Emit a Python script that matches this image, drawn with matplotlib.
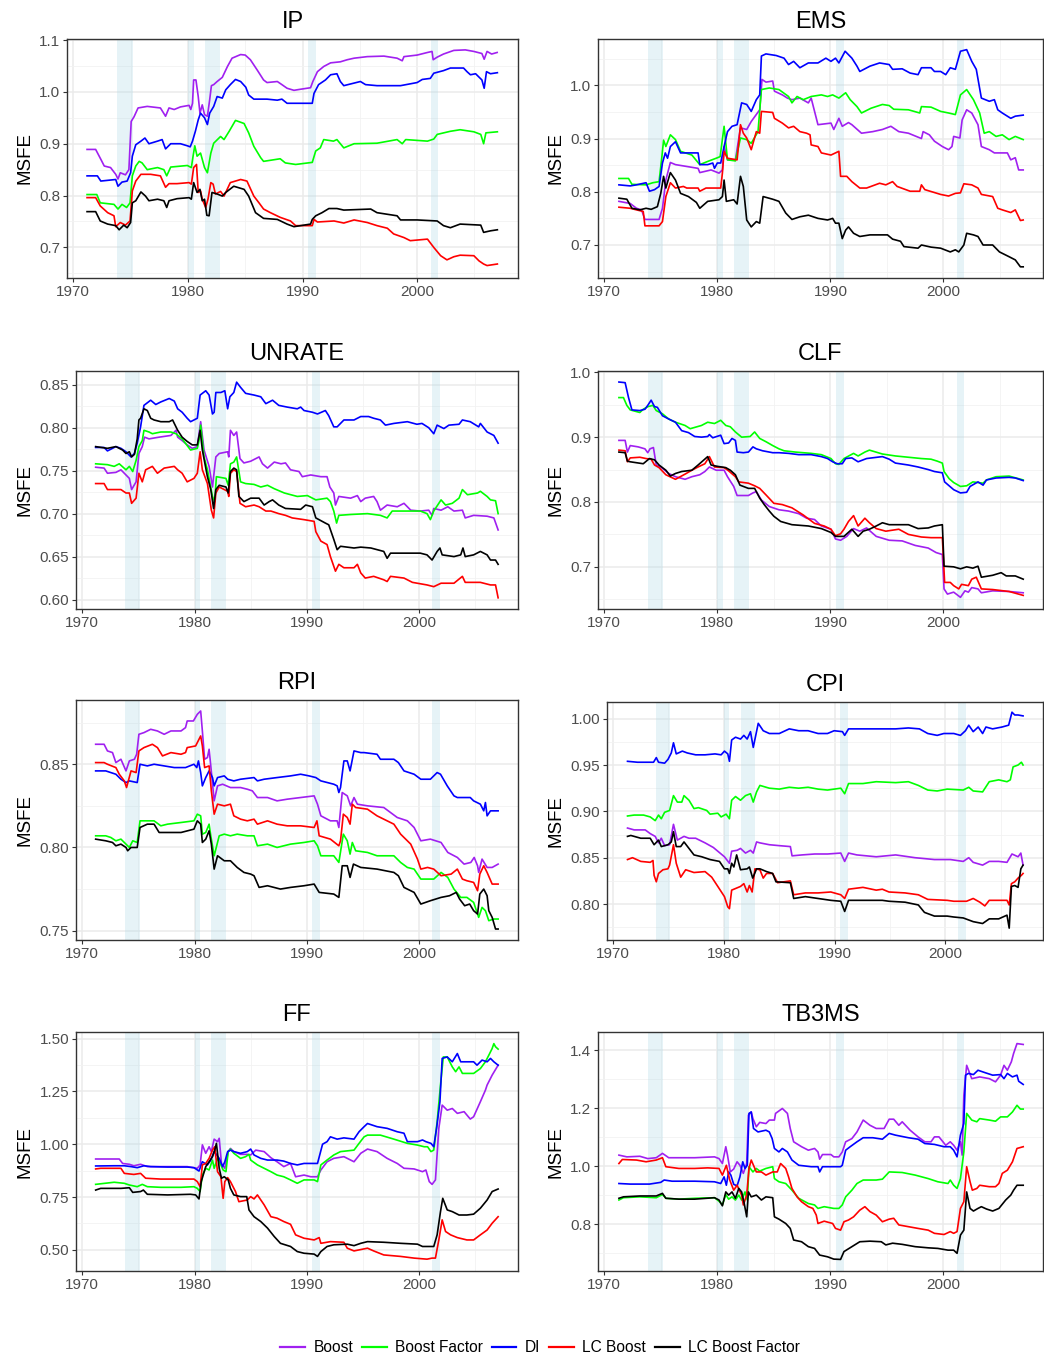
import matplotlib
matplotlib.use("Agg")
import matplotlib.pyplot as plt
from matplotlib.lines import Line2D

plt.rcParams['font.family'] = ['Liberation Sans', 'DejaVu Sans']

# ---------------- data ----------------
SERIES = ["Boost", "Boost Factor", "DI", "LC Boost", "LC Boost Factor"]
COLORS = ["#A020F0", "#00FF00", "#0000FF", "#FF0000", "#000000"]
RECESSIONS = [(1973.83, 1975.17), (1980.0, 1980.5), (1981.5, 1982.83), (1990.5, 1991.17), (2001.17, 2001.83)]
X_TICKS = [1970, 1980, 1990, 2000]

# IP
IP_BOOST = [(1971.2,.889),(1971.95,.889),(1972.4,.870),(1972.7,.857),(1973.25,.854),(1973.7,.841),(1973.9,.832),(1974.1,.844),(1974.55,.840),(1974.85,.850),(1975.05,.943),(1975.3,.952),(1975.65,.969),(1976.45,.972),(1977.6,.969),(1978.05,.953),(1978.35,.969),(1978.8,.966),(1979.35,.971),(1980.1,.974),(1980.25,.966),(1980.4,.978),(1980.5,1.023),(1980.7,1.023),(1980.9,.991),(1981.05,.959),(1981.25,.975),(1981.45,.956),(1981.7,.953),(1981.9,.985),(1982.05,1.012),(1982.25,1.014),(1982.55,1.020),(1983.0,1.028),(1983.45,1.049),(1983.85,1.065),(1984.6,1.072),(1985.0,1.071),(1985.45,1.062),(1986.05,1.042),(1986.6,1.023),(1986.9,1.018),(1987.8,1.020),(1988.2,1.014),(1988.65,1.007),(1989.25,1.003),(1989.8,1.005),(1990.7,1.008),(1990.9,1.020),(1991.3,1.039),(1991.85,1.049),(1992.45,1.056),(1993.3,1.058),(1993.9,1.062),(1994.5,1.065),(1995.65,1.068),(1997.1,1.069),(1998.25,1.065),(1998.7,1.060),(1998.85,1.068),(2000.0,1.071),(2000.9,1.076),(2001.3,1.078),(2001.4,1.062),(2001.75,1.067),(2002.3,1.073),(2003.2,1.080),(2004.2,1.081),(2004.95,1.078),(2005.65,1.074),(2005.85,1.063),(2006.1,1.078),(2006.5,1.073),(2006.98,1.076)]
IP_BOOST_FACTOR = [(1971.2,.802),(1972.05,.802),(1972.35,.786),(1973.55,.783),(1973.9,.774),(1974.25,.783),(1974.65,.777),(1974.95,.786),(1975.15,.838),(1975.45,.857),(1975.75,.866),(1976.0,.863),(1976.45,.850),(1977.35,.854),(1977.9,.850),(1978.15,.838),(1978.5,.855),(1979.95,.858),(1980.3,.854),(1980.45,.876),(1980.6,.896),(1980.8,.876),(1981.1,.882),(1981.45,.854),(1981.7,.844),(1982.0,.882),(1982.25,.901),(1982.85,.914),(1983.15,.908),(1983.6,.924),(1984.15,.945),(1984.9,.939),(1985.3,.921),(1985.75,.895),(1986.35,.873),(1986.6,.866),(1988.05,.871),(1988.5,.863),(1989.4,.860),(1990.85,.864),(1991.15,.886),(1991.55,.892),(1991.85,.908),(1992.7,.905),(1993.0,.908),(1993.6,.892),(1994.5,.900),(1996.5,.901),(1998.25,.908),(1998.7,.900),(1999.0,.908),(2000.9,.905),(2001.45,.909),(2001.75,.918),(2002.9,.924),(2003.75,.927),(2004.95,.923),(2005.55,.918),(2005.8,.900),(2006.0,.921),(2007.0,.923)]
IP_DI = [(1971.2,.838),(1972.1,.838),(1972.4,.828),(1973.7,.831),(1973.9,.818),(1974.25,.826),(1974.7,.828),(1975.0,.844),(1975.15,.876),(1975.45,.898),(1975.9,.905),(1976.25,.911),(1976.6,.900),(1977.35,.905),(1977.75,.908),(1978.05,.890),(1978.5,.900),(1979.35,.900),(1979.95,.896),(1980.2,.894),(1980.4,.905),(1980.65,.924),(1980.9,.946),(1981.1,.959),(1981.45,.950),(1981.7,.937),(1981.9,.959),(1982.25,.972),(1982.55,.991),(1983.0,.988),(1983.3,1.004),(1983.7,1.014),(1984.15,1.024),(1984.6,1.020),(1985.05,1.009),(1985.3,.994),(1985.75,.986),(1986.9,.986),(1987.8,.984),(1988.2,.986),(1988.65,.978),(1990.85,.978),(1991.0,.997),(1991.4,1.014),(1992.0,1.023),(1992.45,1.033),(1993.0,1.035),(1993.3,1.020),(1993.6,1.012),(1995.05,1.020),(1995.5,1.014),(1996.5,1.012),(1998.55,1.012),(2000.0,1.018),(2000.45,1.024),(2001.15,1.026),(2001.45,1.036),(2002.3,1.041),(2002.9,1.046),(2004.05,1.046),(2004.35,1.039),(2004.65,1.033),(2005.1,1.035),(2005.65,1.023),(2005.85,1.007),(2006.05,1.039),(2006.4,1.035),(2007.0,1.037)]
IP_LC_BOOST = [(1971.2,.796),(1971.95,.796),(1972.35,.780),(1973.0,.767),(1973.55,.761),(1973.7,.740),(1974.1,.748),(1974.55,.743),(1974.95,.751),(1975.15,.809),(1975.45,.828),(1975.9,.841),(1976.75,.841),(1977.6,.838),(1978.05,.816),(1978.35,.823),(1979.05,.823),(1980.1,.825),(1980.3,.822),(1980.5,.854),(1980.75,.860),(1980.9,.806),(1981.1,.809),(1981.25,.793),(1981.55,.777),(1981.75,.793),(1982.0,.825),(1982.2,.822),(1982.4,.803),(1982.85,.808),(1983.15,.799),(1983.7,.825),(1984.6,.831),(1985.15,.828),(1985.75,.799),(1986.2,.786),(1986.6,.774),(1987.2,.767),(1988.05,.758),(1988.95,.751),(1989.4,.742),(1990.85,.742),(1991.0,.754),(1991.3,.749),(1992.75,.751),(1993.6,.747),(1994.5,.753),(1995.65,.748),(1996.5,.742),(1997.4,.737),(1997.95,.726),(1998.85,.719),(1999.4,.713),(2000.9,.716),(2001.45,.700),(2002.05,.684),(2002.6,.676),(2003.2,.682),(2003.75,.685),(2004.95,.684),(2005.4,.674),(2005.8,.668),(2006.1,.665),(2007.0,.668)]
IP_LC_BOOST_FACTOR = [(1971.2,.769),(1971.95,.769),(1972.35,.751),(1973.0,.745),(1973.7,.742),(1974.0,.734),(1974.4,.743),(1974.7,.738),(1975.0,.748),(1975.15,.786),(1975.45,.790),(1975.9,.807),(1976.3,.799),(1976.6,.790),(1977.35,.793),(1977.9,.790),(1978.15,.777),(1978.35,.790),(1979.05,.794),(1980.1,.796),(1980.3,.793),(1980.5,.825),(1980.8,.806),(1981.05,.812),(1981.25,.790),(1981.45,.793),(1981.65,.762),(1981.85,.761),(1982.1,.806),(1982.55,.803),(1983.0,.799),(1983.3,.806),(1984.0,.818),(1984.9,.812),(1985.3,.799),(1985.9,.767),(1986.6,.756),(1987.8,.754),(1988.65,.745),(1989.25,.740),(1990.7,.745),(1990.85,.754),(1991.15,.761),(1991.7,.767),(1992.3,.775),(1993.0,.775),(1993.6,.772),(1995.95,.774),(1996.5,.767),(1998.25,.761),(1998.55,.753),(2000.0,.753),(2001.75,.751),(2002.3,.742),(2002.9,.738),(2003.75,.745),(2005.55,.743),(2005.8,.729),(2006.4,.732),(2007.0,.734)]

# EMS
EMS_BOOST = [(1971.3,.782),(1972.3,.778),(1972.85,.769),(1973.3,.766),(1973.6,.748),(1974.85,.748),(1975.15,.769),(1975.45,.822),(1975.85,.855),(1976.3,.851),(1977.45,.847),(1978.3,.844),(1978.45,.836),(1979.45,.841),(1980.15,.835),(1980.45,.841),(1980.6,.885),(1980.9,.860),(1981.6,.860),(1982.05,.920),(1982.6,.917),(1983.0,.932),(1983.75,.954),(1983.95,1.011),(1984.3,1.006),(1984.9,1.008),(1985.05,.989),(1985.75,.982),(1986.2,.976),(1986.6,.973),(1987.3,.976),(1988.05,.967),(1988.3,.976),(1988.9,.926),(1990.05,.929),(1990.3,.917),(1990.75,.938),(1991.05,.923),(1991.6,.930),(1991.9,.926),(1992.75,.910),(1993.75,.913),(1994.6,.917),(1995.35,.923),(1996.05,.913),(1996.9,.910),(1998.05,.900),(1998.2,.913),(1998.75,.907),(1999.2,.895),(1999.9,.885),(2000.45,.879),(2000.75,.885),(2000.9,.904),(2001.45,.901),(2001.65,.935),(2002.05,.954),(2002.5,.948),(2003.05,.926),(2003.35,.885),(2004.05,.879),(2004.5,.873),(2005.65,.873),(2005.95,.860),(2006.35,.864),(2006.65,.841),(2007.05,.841)]
EMS_BOOST_FACTOR = [(1971.3,.825),(1972.15,.825),(1972.45,.814),(1973.7,.813),(1974.3,.817),(1974.85,.819),(1975.1,.866),(1975.25,.897),(1975.45,.885),(1975.85,.907),(1976.3,.898),(1976.75,.876),(1977.75,.869),(1978.45,.851),(1979.15,.857),(1979.9,.863),(1980.25,.866),(1980.6,.923),(1980.9,.860),(1981.6,.858),(1982.05,.901),(1982.6,.898),(1983.0,.891),(1983.6,.913),(1983.9,.992),(1984.6,.995),(1985.45,.992),(1986.3,.979),(1986.6,.967),(1987.05,.979),(1987.6,.973),(1988.3,.979),(1989.2,.982),(1989.75,.979),(1990.2,.982),(1990.75,.976),(1991.35,.986),(1991.75,.973),(1992.35,.960),(1992.75,.948),(1993.6,.957),(1994.6,.964),(1995.2,.962),(1995.6,.955),(1996.9,.954),(1997.9,.948),(1998.05,.960),(1998.9,.959),(1999.75,.951),(2000.45,.948),(2001.05,.945),(2001.5,.982),(2002.05,.992),(2002.65,.973),(2003.2,.948),(2003.6,.910),(2004.05,.913),(2004.65,.904),(2005.2,.907),(2005.8,.898),(2006.35,.904),(2007.05,.898)]
EMS_DI = [(1971.3,.813),(1972.3,.811),(1972.85,.813),(1973.7,.817),(1974.0,.801),(1974.45,.804),(1974.85,.810),(1975.15,.854),(1975.4,.873),(1975.6,.863),(1975.85,.885),(1976.3,.894),(1976.75,.873),(1978.3,.873),(1978.45,.851),(1979.15,.851),(1979.6,.854),(1979.75,.844),(1980.0,.854),(1980.3,.854),(1980.6,.885),(1980.9,.913),(1981.3,.923),(1981.75,.926),(1982.15,.967),(1982.6,.964),(1983.0,.951),(1983.45,.973),(1983.75,.982),(1983.9,1.055),(1984.3,1.059),(1985.2,1.056),(1985.9,1.051),(1986.3,1.039),(1986.75,1.045),(1987.3,1.033),(1988.05,1.042),(1988.9,1.042),(1989.6,1.051),(1990.05,1.045),(1990.45,1.051),(1990.75,1.042),(1991.3,1.064),(1991.9,1.051),(1992.35,1.036),(1992.6,1.026),(1993.5,1.036),(1994.35,1.042),(1995.2,1.039),(1995.5,1.030),(1996.35,1.031),(1997.05,1.023),(1997.75,1.020),(1998.05,1.033),(1998.9,1.033),(1999.2,1.026),(1999.75,1.026),(2000.2,1.020),(2000.6,1.033),(2001.05,1.030),(2001.5,1.064),(2002.05,1.067),(2002.5,1.045),(2002.9,1.030),(2003.35,.976),(2004.05,.970),(2004.5,.973),(2004.8,.954),(2005.2,.948),(2005.95,.938),(2006.35,.942),(2007.05,.944)]
EMS_LC_BOOST = [(1971.3,.771),(1972.3,.769),(1972.85,.766),(1973.45,.763),(1973.6,.736),(1974.85,.736),(1975.15,.744),(1975.45,.791),(1975.85,.817),(1976.3,.807),(1977.0,.810),(1977.3,.807),(1978.3,.807),(1978.45,.801),(1979.0,.807),(1980.3,.807),(1980.45,.835),(1980.6,.876),(1980.9,.863),(1981.75,.860),(1982.05,.926),(1982.3,.910),(1982.6,.901),(1983.0,.879),(1983.45,.913),(1983.75,.910),(1983.9,.951),(1984.9,.949),(1985.05,.938),(1985.75,.929),(1986.3,.920),(1986.75,.923),(1987.3,.913),(1987.9,.910),(1988.2,.907),(1988.3,.888),(1988.9,.885),(1989.2,.873),(1990.05,.869),(1990.45,.873),(1990.75,.876),(1990.9,.829),(1991.45,.829),(1991.9,.819),(1992.6,.807),(1993.2,.807),(1994.35,.816),(1994.9,.813),(1995.5,.819),(1995.9,.810),(1997.05,.801),(1997.9,.801),(1998.05,.813),(1998.35,.804),(1999.75,.795),(2000.45,.792),(2001.05,.797),(2001.5,.798),(2001.8,.815),(2002.5,.813),(2003.05,.807),(2003.35,.795),(2004.35,.791),(2004.8,.769),(2005.2,.766),(2005.95,.761),(2006.35,.766),(2006.8,.746),(2007.05,.747)]
EMS_LC_BOOST_FACTOR = [(1971.3,.788),(1972.0,.786),(1972.45,.769),(1973.15,.766),(1973.7,.769),(1974.15,.767),(1974.7,.772),(1975.0,.797),(1975.25,.829),(1975.45,.807),(1975.75,.829),(1975.85,.836),(1976.3,.822),(1976.75,.797),(1977.45,.791),(1978.15,.780),(1978.45,.769),(1979.15,.782),(1980.15,.785),(1980.45,.791),(1980.6,.822),(1980.8,.782),(1981.45,.785),(1981.75,.777),(1982.05,.829),(1982.3,.810),(1982.6,.747),(1983.0,.734),(1983.45,.744),(1983.75,.741),(1984.05,.791),(1984.9,.786),(1985.45,.782),(1986.05,.760),(1986.6,.748),(1987.3,.753),(1988.05,.756),(1988.9,.750),(1989.75,.747),(1990.2,.750),(1990.45,.741),(1990.75,.741),(1991.05,.712),(1991.35,.728),(1991.6,.734),(1992.05,.722),(1992.6,.716),(1993.5,.719),(1995.05,.719),(1995.5,.711),(1996.2,.707),(1996.5,.697),(1997.75,.694),(1998.05,.700),(1998.9,.696),(1999.75,.694),(2000.6,.687),(2001.05,.691),(2001.35,.687),(2001.8,.700),(2002.05,.722),(2002.65,.719),(2003.05,.716),(2003.5,.700),(2004.35,.700),(2004.95,.687),(2005.8,.678),(2006.35,.672),(2006.8,.659),(2007.05,.659)]

# UNRATE
UNRATE_BOOST = [(1971.2,.754),(1971.95,.753),(1972.25,.747),(1973.0,.748),(1973.45,.751),(1973.9,.745),(1974.2,.741),(1974.4,.728),(1974.8,.737),(1975.05,.770),(1975.35,.778),(1975.55,.789),(1975.95,.787),(1976.85,.789),(1977.9,.791),(1978.35,.797),(1978.5,.789),(1978.9,.785),(1979.35,.780),(1979.8,.776),(1980.25,.778),(1980.55,.807),(1980.85,.774),(1981.3,.755),(1981.6,.731),(1981.9,.766),(1982.2,.770),(1982.95,.772),(1983.05,.766),(1983.2,.797),(1983.5,.791),(1983.75,.795),(1984.05,.764),(1984.4,.759),(1985.0,.761),(1985.45,.764),(1985.75,.766),(1986.05,.758),(1986.5,.753),(1987.1,.760),(1987.7,.758),(1988.1,.759),(1988.55,.751),(1989.3,.749),(1989.6,.743),(1990.35,.745),(1991.25,.743),(1991.8,.743),(1992.05,.731),(1992.4,.724),(1992.55,.710),(1992.85,.720),(1993.9,.718),(1994.5,.721),(1994.8,.714),(1995.2,.718),(1995.95,.720),(1996.25,.714),(1996.55,.704),(1997.15,.710),(1998.05,.708),(1998.65,.712),(1999.25,.704),(2000.1,.703),(2000.85,.704),(2001.15,.698),(2001.3,.706),(2001.95,.704),(2002.55,.708),(2003.1,.703),(2003.85,.704),(2004.1,.695),(2004.85,.698),(2006.05,.697),(2006.65,.695),(2007.03,.681)]
UNRATE_BOOST_FACTOR = [(1971.2,.758),(1972.25,.757),(1972.85,.755),(1973.3,.758),(1973.9,.751),(1974.2,.755),(1974.5,.749),(1974.8,.762),(1975.05,.778),(1975.35,.785),(1975.5,.797),(1975.95,.795),(1976.25,.793),(1977.0,.795),(1977.9,.795),(1978.35,.793),(1978.9,.787),(1979.65,.774),(1980.25,.776),(1980.4,.785),(1980.55,.803),(1980.85,.766),(1981.15,.751),(1981.6,.720),(1981.8,.714),(1981.95,.743),(1982.8,.741),(1983.0,.733),(1983.2,.758),(1983.5,.760),(1983.75,.766),(1984.1,.737),(1984.55,.735),(1985.3,.734),(1985.9,.731),(1986.5,.733),(1987.1,.729),(1988.0,.724),(1989.15,.720),(1990.05,.721),(1990.8,.716),(1991.8,.718),(1992.1,.714),(1992.4,.703),(1992.65,.689),(1992.85,.698),(1993.9,.699),(1995.4,.700),(1996.55,.698),(1997.15,.695),(1997.6,.703),(1998.95,.703),(2000.1,.703),(2000.7,.700),(2001.0,.693),(2001.3,.703),(2001.95,.716),(2002.35,.710),(2002.95,.712),(2003.55,.718),(2003.85,.728),(2004.3,.722),(2005.2,.724),(2005.45,.726),(2006.05,.720),(2006.35,.716),(2006.8,.715),(2007.03,.700)]
UNRATE_DI = [(1971.2,.777),(1971.95,.777),(1972.25,.773),(1973.0,.778),(1973.45,.776),(1973.9,.772),(1974.35,.766),(1974.65,.770),(1974.9,.782),(1975.2,.801),(1975.5,.826),(1976.1,.832),(1976.55,.827),(1977.0,.830),(1977.75,.834),(1978.2,.831),(1978.5,.822),(1978.9,.818),(1979.35,.811),(1979.65,.807),(1980.25,.811),(1980.5,.838),(1981.0,.843),(1981.3,.838),(1981.6,.816),(1981.75,.818),(1981.9,.841),(1982.35,.841),(1982.7,.843),(1982.95,.822),(1983.15,.836),(1983.5,.841),(1983.75,.853),(1984.1,.847),(1984.55,.840),(1985.3,.838),(1985.9,.836),(1986.35,.828),(1986.95,.832),(1987.5,.826),(1988.25,.824),(1989.15,.822),(1989.45,.824),(1989.75,.820),(1990.5,.818),(1990.95,.816),(1991.65,.820),(1991.95,.814),(1992.4,.801),(1992.7,.801),(1993.3,.809),(1994.2,.809),(1994.8,.813),(1995.5,.813),(1995.95,.811),(1996.55,.809),(1997.0,.803),(1997.75,.805),(1998.95,.807),(1999.8,.804),(2000.25,.805),(2000.85,.800),(2001.3,.793),(2001.6,.803),(2002.2,.799),(2002.65,.803),(2003.55,.804),(2003.85,.809),(2004.55,.807),(2005.3,.801),(2005.45,.805),(2006.05,.795),(2006.65,.791),(2007.03,.782)]
UNRATE_LC_BOOST = [(1971.2,.735),(1971.95,.735),(1972.25,.728),(1973.45,.728),(1973.9,.724),(1974.2,.724),(1974.4,.712),(1974.8,.718),(1975.05,.747),(1975.35,.737),(1975.65,.751),(1976.25,.755),(1976.7,.747),(1977.3,.753),(1978.2,.755),(1978.5,.751),(1978.9,.747),(1979.35,.737),(1979.95,.741),(1980.25,.747),(1980.5,.772),(1980.7,.751),(1981.15,.735),(1981.5,.704),(1981.7,.695),(1981.9,.724),(1982.2,.731),(1982.95,.726),(1983.05,.720),(1983.2,.747),(1983.5,.751),(1983.75,.749),(1984.05,.712),(1984.55,.708),(1985.3,.710),(1985.75,.708),(1986.35,.703),(1986.8,.703),(1987.5,.700),(1988.1,.698),(1988.7,.695),(1989.75,.693),(1990.65,.691),(1990.8,.679),(1991.25,.668),(1991.8,.664),(1992.1,.650),(1992.55,.633),(1992.85,.641),(1993.3,.637),(1994.2,.637),(1994.5,.641),(1994.8,.631),(1995.2,.625),(1995.95,.627),(1996.85,.623),(1997.15,.621),(1997.45,.627),(1998.65,.625),(1999.4,.620),(2000.7,.617),(2001.3,.615),(2001.95,.619),(2003.1,.619),(2003.85,.627),(2004.1,.620),(2005.45,.620),(2006.35,.617),(2006.8,.617),(2007.03,.602)]
UNRATE_LC_BOOST_FACTOR = [(1971.2,.778),(1972.25,.776),(1973.0,.778),(1973.6,.774),(1973.9,.770),(1974.2,.772),(1974.4,.766),(1974.65,.769),(1974.9,.787),(1975.05,.809),(1975.2,.811),(1975.5,.822),(1975.8,.820),(1976.1,.811),(1976.4,.809),(1977.0,.807),(1977.75,.807),(1978.05,.809),(1978.5,.797),(1978.9,.789),(1979.35,.784),(1979.8,.780),(1980.25,.780),(1980.5,.797),(1980.7,.774),(1981.15,.743),(1981.45,.728),(1981.7,.706),(1981.9,.728),(1982.2,.733),(1982.8,.731),(1983.0,.724),(1983.2,.749),(1983.5,.753),(1983.75,.751),(1983.95,.720),(1984.4,.714),(1985.0,.718),(1985.75,.718),(1986.2,.710),(1986.65,.714),(1986.95,.716),(1987.5,.710),(1988.1,.706),(1989.45,.705),(1989.9,.710),(1990.5,.708),(1990.8,.695),(1991.65,.689),(1991.95,.687),(1992.4,.670),(1992.7,.658),(1993.0,.662),(1994.2,.660),(1994.8,.661),(1995.7,.660),(1996.85,.656),(1997.15,.648),(1997.45,.654),(1998.95,.654),(2000.1,.654),(2000.7,.652),(2001.15,.646),(2001.6,.656),(2001.85,.660),(2002.05,.652),(2003.1,.650),(2003.7,.652),(2003.9,.660),(2004.1,.650),(2004.85,.652),(2005.45,.656),(2006.05,.652),(2006.35,.646),(2006.8,.646),(2007.03,.641)]

# CLF
CLF_BOOST = [(1971.3,.895),(1971.85,.895),(1972.05,.877),(1972.3,.887),(1973.0,.885),(1973.6,.882),(1973.85,.876),(1974.05,.882),(1974.35,.884),(1974.6,.857),(1975.0,.854),(1975.7,.844),(1976.3,.839),(1977.15,.835),(1977.75,.839),(1978.45,.842),(1978.9,.847),(1979.3,.854),(1979.9,.849),(1980.6,.849),(1980.9,.839),(1981.45,.824),(1981.75,.810),(1982.75,.810),(1983.15,.814),(1983.45,.816),(1983.9,.803),(1984.6,.793),(1985.45,.788),(1986.3,.786),(1987.2,.782),(1987.9,.775),(1988.6,.773),(1989.2,.763),(1990.05,.758),(1990.45,.743),(1990.9,.741),(1991.45,.747),(1992.05,.759),(1992.6,.755),(1993.2,.760),(1994.05,.747),(1995.2,.741),(1996.35,.740),(1997.5,.733),(1998.65,.729),(1999.35,.722),(1999.9,.719),(2000.05,.666),(2000.35,.658),(2000.9,.661),(2001.5,.653),(2001.9,.663),(2002.2,.661),(2002.5,.668),(2003.05,.666),(2003.35,.660),(2004.35,.663),(2005.8,.662),(2007.05,.660)]
CLF_BOOST_FACTOR = [(1971.3,.961),(1971.7,.961),(1972.0,.949),(1972.3,.942),(1973.15,.938),(1973.45,.943),(1973.85,.947),(1974.3,.949),(1974.6,.941),(1975.15,.936),(1975.7,.928),(1976.3,.923),(1977.15,.918),(1977.6,.913),(1978.6,.918),(1979.15,.923),(1979.75,.921),(1980.3,.926),(1980.75,.918),(1981.15,.916),(1981.6,.908),(1982.15,.900),(1982.9,.901),(1983.3,.908),(1983.75,.898),(1984.3,.893),(1984.9,.887),(1985.45,.882),(1985.9,.879),(1986.9,.877),(1988.3,.875),(1989.2,.873),(1990.05,.867),(1990.45,.859),(1990.75,.858),(1991.2,.867),(1992.05,.875),(1992.45,.871),(1993.05,.877),(1993.45,.880),(1994.6,.874),(1995.75,.871),(1996.9,.869),(1998.05,.867),(1998.9,.866),(1999.45,.863),(1999.9,.860),(2000.05,.847),(2000.5,.836),(2000.9,.830),(2001.5,.824),(2002.05,.825),(2002.6,.831),(2003.5,.829),(2003.8,.834),(2004.65,.839),(2005.8,.840),(2007.05,.834)]
CLF_DI = [(1971.3,.985),(1971.85,.984),(1972.15,.961),(1972.45,.942),(1973.15,.941),(1973.6,.943),(1973.85,.949),(1974.15,.957),(1974.45,.947),(1974.7,.946),(1975.15,.933),(1975.7,.928),(1976.3,.923),(1976.85,.910),(1977.45,.907),(1978.0,.901),(1978.6,.900),(1979.15,.901),(1979.3,.904),(1979.6,.899),(1980.3,.903),(1980.6,.890),(1981.0,.891),(1981.3,.898),(1981.6,.895),(1981.75,.877),(1982.3,.876),(1982.75,.877),(1983.15,.885),(1983.45,.882),(1984.0,.879),(1984.9,.876),(1985.45,.876),(1986.3,.875),(1987.2,.873),(1988.3,.873),(1989.2,.870),(1989.75,.867),(1990.2,.862),(1990.6,.859),(1991.05,.859),(1991.35,.867),(1991.9,.868),(1992.45,.862),(1993.2,.867),(1994.6,.870),(1995.2,.866),(1995.75,.860),(1996.9,.857),(1997.75,.854),(1998.65,.850),(1999.2,.847),(1999.9,.845),(2000.1,.831),(2000.5,.825),(2000.9,.819),(2001.5,.814),(2002.05,.815),(2002.35,.824),(2003.05,.831),(2003.5,.826),(2003.8,.834),(2004.65,.837),(2005.8,.838),(2006.35,.837),(2007.05,.833)]
CLF_LC_BOOST = [(1971.3,.880),(1971.85,.879),(1972.05,.862),(1972.3,.868),(1973.15,.869),(1973.7,.867),(1974.15,.866),(1974.45,.857),(1974.85,.853),(1975.45,.842),(1976.3,.835),(1977.15,.843),(1977.75,.849),(1978.3,.854),(1978.9,.859),(1979.3,.870),(1979.75,.854),(1980.6,.853),(1981.0,.848),(1981.6,.839),(1981.9,.831),(1982.75,.829),(1983.3,.825),(1983.75,.821),(1984.3,.811),(1985.0,.798),(1985.75,.796),(1986.6,.791),(1987.6,.780),(1988.6,.767),(1989.45,.763),(1990.05,.758),(1990.45,.748),(1990.9,.751),(1991.2,.758),(1991.6,.770),(1992.05,.779),(1992.45,.763),(1993.05,.775),(1993.45,.768),(1994.05,.759),(1994.9,.755),(1996.05,.758),(1996.9,.750),(1998.05,.746),(1998.9,.745),(1999.9,.745),(2000.1,.676),(2000.6,.676),(2000.9,.671),(2001.35,.666),(2001.6,.673),(2002.2,.671),(2002.5,.681),(2002.9,.684),(2003.35,.666),(2004.35,.665),(2005.8,.662),(2007.05,.656)]
CLF_LC_BOOST_FACTOR = [(1971.3,.877),(1971.85,.876),(1972.05,.863),(1972.3,.862),(1973.45,.859),(1974.0,.867),(1974.45,.865),(1974.85,.857),(1975.45,.849),(1975.85,.840),(1976.3,.844),(1976.85,.847),(1977.75,.849),(1978.3,.857),(1979.15,.870),(1979.45,.857),(1980.0,.855),(1980.75,.853),(1981.15,.849),(1981.6,.842),(1982.0,.826),(1982.75,.821),(1983.3,.821),(1983.75,.806),(1984.15,.796),(1984.6,.786),(1985.0,.778),(1985.6,.770),(1986.6,.765),(1988.05,.763),(1989.2,.759),(1990.05,.753),(1990.45,.747),(1991.2,.747),(1991.9,.758),(1992.45,.747),(1992.9,.755),(1993.45,.758),(1994.05,.763),(1994.6,.768),(1995.2,.765),(1996.9,.765),(1997.75,.759),(1998.65,.760),(1999.2,.763),(1999.9,.765),(2000.05,.701),(2000.9,.700),(2001.5,.697),(2002.05,.700),(2002.6,.698),(2003.05,.701),(2003.35,.684),(2004.35,.687),(2005.1,.691),(2005.55,.686),(2006.35,.686),(2007.05,.681)]

# RPI
RPI_BOOST = [(1971.2,.862),(1971.95,.862),(1972.25,.858),(1972.7,.857),(1973.0,.851),(1973.45,.853),(1973.9,.846),(1974.2,.852),(1974.65,.853),(1974.85,.856),(1975.05,.868),(1975.5,.869),(1976.1,.871),(1976.7,.870),(1977.3,.868),(1977.9,.870),(1978.8,.870),(1979.2,.872),(1979.35,.876),(1979.9,.876),(1980.25,.880),(1980.55,.882),(1980.7,.870),(1980.9,.853),(1981.15,.854),(1981.3,.859),(1981.45,.849),(1981.75,.828),(1982.05,.837),(1982.5,.838),(1983.2,.836),(1984.1,.836),(1984.7,.835),(1985.15,.834),(1985.6,.830),(1986.5,.830),(1987.35,.828),(1988.25,.829),(1989.45,.830),(1990.65,.831),(1990.95,.826),(1991.25,.819),(1992.1,.816),(1992.7,.816),(1992.85,.812),(1993.15,.833),(1993.6,.831),(1993.9,.825),(1994.2,.830),(1994.5,.826),(1995.4,.825),(1996.85,.824),(1997.45,.821),(1998.05,.818),(1998.95,.816),(1999.55,.812),(2000.15,.804),(2001.0,.805),(2001.95,.803),(2002.55,.797),(2003.4,.794),(2004.0,.790),(2004.6,.791),(2004.9,.794),(2005.2,.789),(2005.3,.785),(2005.6,.793),(2006.05,.788),(2006.5,.788),(2007.03,.790)]
RPI_BOOST_FACTOR = [(1971.2,.807),(1972.1,.807),(1972.55,.806),(1973.0,.804),(1973.45,.805),(1973.9,.802),(1974.2,.800),(1974.5,.804),(1974.9,.803),(1975.15,.816),(1975.8,.816),(1976.4,.816),(1977.0,.813),(1977.6,.814),(1978.8,.815),(1979.95,.816),(1980.25,.820),(1980.55,.819),(1980.7,.808),(1981.0,.809),(1981.3,.814),(1981.45,.807),(1981.75,.795),(1982.2,.807),(1982.65,.808),(1983.2,.807),(1983.8,.808),(1984.7,.807),(1985.3,.807),(1985.6,.801),(1986.5,.802),(1987.35,.800),(1988.55,.802),(1989.75,.803),(1990.65,.804),(1990.95,.801),(1991.25,.795),(1992.4,.795),(1992.85,.791),(1993.25,.808),(1993.6,.804),(1993.85,.796),(1994.05,.803),(1994.35,.798),(1995.4,.797),(1996.25,.795),(1997.75,.795),(1998.35,.791),(1998.95,.788),(1999.55,.787),(2000.15,.781),(2001.3,.781),(2001.95,.785),(2002.55,.782),(2003.1,.775),(2003.7,.770),(2004.25,.770),(2004.85,.767),(2005.3,.758),(2005.6,.764),(2005.9,.762),(2006.2,.756),(2006.65,.757),(2007.03,.757)]
RPI_DI = [(1971.2,.846),(1972.1,.846),(1972.55,.845),(1973.0,.844),(1973.45,.841),(1973.9,.839),(1974.2,.840),(1974.9,.839),(1975.15,.850),(1975.8,.849),(1976.4,.850),(1977.3,.849),(1978.2,.848),(1979.2,.848),(1979.95,.850),(1980.2,.848),(1980.35,.852),(1980.55,.845),(1980.7,.837),(1981.0,.842),(1981.3,.846),(1981.6,.842),(1981.75,.837),(1982.05,.842),(1982.65,.843),(1982.95,.841),(1983.5,.840),(1984.1,.841),(1985.3,.842),(1985.6,.840),(1986.2,.841),(1987.35,.842),(1988.55,.843),(1989.45,.844),(1990.2,.843),(1990.8,.842),(1991.25,.840),(1992.4,.838),(1992.7,.837),(1992.85,.833),(1993.0,.836),(1993.3,.852),(1993.6,.852),(1993.85,.846),(1994.2,.858),(1994.8,.857),(1995.1,.857),(1996.25,.856),(1996.55,.853),(1997.75,.853),(1998.15,.851),(1998.65,.846),(1999.55,.844),(2000.15,.841),(2001.0,.841),(2001.6,.845),(2001.9,.844),(2002.5,.837),(2003.1,.831),(2003.4,.830),(2004.25,.830),(2004.55,.830),(2004.85,.828),(2005.45,.826),(2005.75,.822),(2005.9,.827),(2006.05,.819),(2006.35,.822),(2007.03,.822)]
RPI_LC_BOOST = [(1971.2,.851),(1971.95,.851),(1972.25,.850),(1973.0,.848),(1973.3,.844),(1973.75,.840),(1973.95,.836),(1974.35,.846),(1974.8,.845),(1975.05,.858),(1975.5,.860),(1976.25,.862),(1976.7,.860),(1977.15,.855),(1977.9,.857),(1978.8,.856),(1979.2,.857),(1979.35,.860),(1980.1,.861),(1980.55,.867),(1980.7,.861),(1980.9,.848),(1981.3,.849),(1981.5,.834),(1981.75,.820),(1982.05,.826),(1982.65,.825),(1983.2,.826),(1983.5,.819),(1984.1,.817),(1984.7,.816),(1985.3,.817),(1985.6,.814),(1986.5,.816),(1987.35,.814),(1988.25,.813),(1989.45,.813),(1990.65,.812),(1990.9,.816),(1991.1,.807),(1992.1,.805),(1992.85,.801),(1993.0,.804),(1993.25,.820),(1993.6,.818),(1993.85,.814),(1994.05,.826),(1994.35,.824),(1995.4,.823),(1996.25,.819),(1997.15,.816),(1997.75,.814),(1998.35,.808),(1999.25,.802),(1999.85,.793),(2000.15,.787),(2000.75,.788),(2001.3,.787),(2001.95,.783),(2002.85,.784),(2003.4,.787),(2003.85,.781),(2004.25,.780),(2004.85,.779),(2005.2,.774),(2005.4,.784),(2005.75,.789),(2006.05,.785),(2006.5,.778),(2007.03,.778)]
RPI_LC_BOOST_FACTOR = [(1971.2,.805),(1972.1,.804),(1972.7,.803),(1973.0,.801),(1973.45,.802),(1973.9,.800),(1974.05,.798),(1974.35,.800),(1974.9,.800),(1975.15,.812),(1975.8,.814),(1976.4,.814),(1976.85,.809),(1977.6,.809),(1978.8,.809),(1979.95,.811),(1980.25,.816),(1980.55,.814),(1980.7,.803),(1981.0,.805),(1981.3,.810),(1981.5,.802),(1981.75,.787),(1982.05,.795),(1982.65,.792),(1983.2,.792),(1983.8,.788),(1984.4,.785),(1985.0,.784),(1985.3,.783),(1985.75,.776),(1986.5,.777),(1987.65,.775),(1988.55,.776),(1989.75,.777),(1990.65,.778),(1991.1,.773),(1992.4,.772),(1992.85,.770),(1993.15,.789),(1993.6,.789),(1993.85,.782),(1994.15,.790),(1994.8,.788),(1996.25,.787),(1997.75,.785),(1998.15,.783),(1998.65,.776),(1999.55,.773),(2000.15,.766),(2001.0,.768),(2001.95,.770),(2002.7,.771),(2003.3,.773),(2003.6,.769),(2004.05,.765),(2004.5,.766),(2004.85,.762),(2005.2,.760),(2005.4,.772),(2005.75,.775),(2006.05,.771),(2006.2,.762),(2006.5,.758),(2006.8,.751),(2007.03,.751)]

# CPI
CPI_BOOST = [(1971.3,.882),(1971.9,.880),(1972.9,.880),(1973.35,.876),(1973.8,.873),(1974.1,.866),(1974.35,.871),(1974.65,.863),(1975.1,.864),(1975.45,.886),(1975.8,.869),(1976.4,.873),(1976.85,.871),(1977.45,.871),(1978.3,.866),(1979.05,.861),(1979.45,.857),(1980.05,.851),(1980.5,.844),(1980.7,.857),(1981.2,.858),(1981.5,.860),(1981.95,.855),(1982.4,.858),(1982.65,.855),(1982.95,.867),(1983.25,.866),(1984.1,.864),(1985.0,.863),(1986.0,.862),(1986.15,.852),(1987.05,.853),(1988.2,.854),(1989.35,.854),(1990.55,.855),(1990.9,.846),(1991.25,.855),(1992.0,.853),(1993.75,.851),(1995.5,.853),(1997.25,.850),(1999.0,.848),(2000.45,.848),(2001.6,.846),(2002.1,.850),(2002.5,.845),(2003.35,.842),(2003.95,.846),(2004.8,.846),(2005.55,.845),(2006.0,.854),(2006.55,.851),(2006.8,.855),(2007.0,.842)]
CPI_BOOST_FACTOR = [(1971.3,.895),(1971.9,.896),(1972.75,.896),(1973.35,.894),(1973.8,.890),(1974.1,.896),(1974.35,.892),(1974.65,.899),(1975.1,.901),(1975.45,.917),(1975.8,.910),(1976.2,.910),(1976.4,.917),(1976.85,.912),(1977.3,.903),(1977.7,.904),(1978.45,.901),(1978.75,.897),(1979.45,.898),(1979.75,.894),(1980.2,.897),(1980.5,.892),(1980.7,.912),(1981.05,.916),(1981.5,.912),(1981.95,.917),(1982.4,.919),(1982.65,.910),(1982.95,.921),(1983.25,.928),(1984.1,.925),(1985.0,.924),(1985.9,.926),(1986.75,.925),(1987.6,.926),(1988.5,.924),(1989.35,.923),(1990.55,.925),(1990.9,.919),(1991.25,.930),(1992.55,.930),(1993.75,.932),(1995.5,.931),(1996.65,.932),(1997.55,.928),(1998.4,.923),(1999.25,.922),(2000.15,.924),(2001.6,.923),(2002.1,.926),(2002.5,.922),(2003.35,.921),(2003.95,.932),(2004.8,.934),(2005.55,.932),(2005.85,.934),(2006.1,.948),(2006.55,.950),(2006.85,.953),(2007.0,.950)]
CPI_DI = [(1971.3,.954),(1972.2,.953),(1973.05,.953),(1973.65,.953),(1973.9,.958),(1974.1,.953),(1974.65,.952),(1974.95,.956),(1975.25,.963),(1975.45,.974),(1975.7,.962),(1976.25,.965),(1976.7,.963),(1977.45,.961),(1978.3,.961),(1979.2,.962),(1979.75,.961),(1980.05,.965),(1980.35,.962),(1980.5,.954),(1980.7,.977),(1981.05,.980),(1981.5,.978),(1981.8,.982),(1982.1,.978),(1982.4,.986),(1982.65,.969),(1983.1,.995),(1983.55,.987),(1984.1,.984),(1985.0,.984),(1985.9,.989),(1986.75,.987),(1987.6,.987),(1988.5,.984),(1989.35,.984),(1989.95,.987),(1990.7,.986),(1990.9,.982),(1991.25,.989),(1992.0,.989),(1993.15,.989),(1994.3,.989),(1995.5,.989),(1996.65,.990),(1997.65,.989),(1998.4,.984),(1999.25,.982),(1999.85,.984),(2000.75,.984),(2001.35,.982),(2001.8,.987),(2002.1,.993),(2002.5,.986),(2002.95,.991),(2003.35,.984),(2003.65,.991),(2004.25,.989),(2005.1,.991),(2005.7,.993),(2006.0,1.007),(2006.25,1.004),(2006.55,1.004),(2007.0,1.003)]
CPI_LC_BOOST = [(1971.3,.848),(1971.75,.850),(1972.5,.846),(1973.35,.845),(1973.6,.847),(1973.7,.831),(1973.9,.824),(1974.1,.833),(1974.5,.837),(1974.95,.838),(1975.1,.842),(1975.45,.864),(1975.7,.844),(1976.1,.829),(1976.55,.837),(1977.3,.834),(1978.3,.835),(1978.9,.829),(1979.45,.819),(1980.05,.808),(1980.35,.797),(1980.5,.795),(1980.7,.815),(1981.5,.819),(1981.8,.822),(1982.1,.813),(1982.3,.820),(1982.55,.813),(1982.8,.838),(1983.25,.837),(1983.55,.828),(1983.85,.833),(1984.4,.833),(1984.85,.823),(1986.0,.825),(1986.3,.810),(1987.35,.812),(1988.5,.812),(1989.65,.813),(1990.55,.810),(1990.9,.806),(1991.25,.816),(1992.55,.818),(1993.75,.815),(1994.3,.816),(1994.9,.813),(1996.35,.812),(1997.55,.810),(1998.4,.805),(2000.15,.804),(2000.75,.803),(2001.9,.803),(2002.5,.806),(2003.1,.802),(2003.55,.798),(2003.95,.804),(2004.8,.804),(2005.55,.804),(2005.75,.799),(2005.95,.822),(2006.25,.824),(2006.55,.828),(2006.85,.831),(2007.0,.833)]
CPI_LC_BOOST_FACTOR = [(1971.3,.873),(1971.6,.874),(1972.5,.871),(1973.35,.871),(1973.7,.864),(1974.1,.869),(1974.35,.862),(1974.95,.864),(1975.25,.867),(1975.45,.878),(1975.7,.862),(1976.1,.862),(1976.4,.867),(1976.85,.860),(1977.3,.853),(1978.0,.851),(1978.75,.848),(1979.6,.846),(1980.05,.838),(1980.35,.838),(1980.5,.833),(1980.7,.844),(1980.9,.840),(1981.15,.853),(1981.5,.837),(1982.1,.838),(1982.3,.840),(1982.6,.828),(1982.95,.838),(1983.25,.838),(1983.85,.835),(1984.4,.833),(1984.7,.824),(1986.0,.823),(1986.3,.806),(1987.35,.808),(1988.5,.806),(1989.65,.804),(1990.55,.803),(1990.9,.792),(1991.25,.804),(1992.55,.804),(1994.3,.804),(1994.9,.803),(1996.35,.802),(1997.55,.799),(1998.1,.791),(1999.0,.787),(2000.15,.787),(2000.75,.786),(2001.6,.785),(2002.5,.781),(2003.35,.779),(2003.95,.784),(2004.8,.784),(2005.55,.788),(2005.75,.774),(2005.95,.819),(2006.25,.820),(2006.55,.818),(2006.8,.838),(2007.0,.842)]

# FF
FF_BOOST = [(1971.2,.930),(1972.85,.930),(1973.3,.930),(1973.6,.909),(1974.2,.905),(1974.6,.898),(1975.2,.905),(1975.8,.894),(1977.6,.894),(1979.35,.894),(1980.25,.886),(1980.5,.902),(1980.7,.997),(1981.0,.957),(1981.3,.988),(1981.5,.965),(1981.75,1.024),(1982.05,1.012),(1982.2,1.028),(1982.4,.909),(1982.7,.886),(1983.0,.965),(1983.2,.980),(1983.5,.965),(1984.1,.952),(1984.7,.952),(1985.0,.949),(1985.45,.972),(1986.2,.965),(1986.8,.936),(1987.35,.917),(1987.95,.894),(1988.55,.909),(1989.0,.846),(1989.75,.854),(1990.35,.846),(1990.95,.846),(1991.25,.878),(1991.8,.917),(1992.4,.933),(1993.3,.941),(1994.2,.917),(1994.8,.957),(1995.4,.977),(1996.25,.965),(1997.15,.933),(1998.05,.909),(1998.65,.886),(1999.55,.883),(2000.3,.870),(2000.6,.878),(2000.9,.823),(2001.15,.810),(2001.45,.831),(2001.75,1.075),(2002.05,1.185),(2002.5,1.161),(2002.95,1.169),(2003.4,1.146),(2004.0,1.154),(2004.55,1.119),(2004.85,1.130),(2005.45,1.201),(2005.9,1.256),(2006.05,1.280),(2006.5,1.327),(2007.03,1.374)]
FF_BOOST_FACTOR = [(1971.2,.810),(1972.85,.820),(1973.75,.815),(1974.2,.807),(1974.9,.799),(1975.35,.810),(1975.8,.799),(1977.0,.796),(1978.8,.796),(1979.95,.799),(1980.25,.791),(1980.5,.776),(1980.7,.854),(1981.0,.886),(1981.3,.878),(1981.6,.925),(1981.75,.886),(1982.05,.933),(1982.35,.902),(1982.55,.878),(1982.8,.870),(1983.0,.965),(1983.2,.977),(1983.5,.957),(1984.1,.933),(1984.55,.941),(1984.85,.952),(1985.0,.925),(1985.6,.902),(1986.2,.886),(1986.8,.870),(1987.35,.854),(1987.95,.846),(1988.55,.831),(1989.15,.815),(1989.75,.831),(1990.65,.831),(1990.95,.823),(1991.25,.902),(1991.8,.925),(1992.4,.949),(1993.0,.965),(1994.2,.972),(1994.65,1.004),(1995.1,1.035),(1995.4,1.043),(1996.55,1.043),(1997.75,1.024),(1998.95,1.004),(1999.85,.996),(2000.45,.988),(2000.75,.988),(2001.05,.965),(2001.3,.972),(2001.6,1.106),(2001.9,1.280),(2002.15,1.413),(2002.5,1.413),(2002.95,1.366),(2003.25,1.343),(2003.55,1.366),(2003.85,1.335),(2004.85,1.335),(2005.45,1.358),(2005.9,1.390),(2006.2,1.421),(2006.5,1.453),(2006.65,1.476),(2006.8,1.461),(2007.03,1.450)]
FF_DI = [(1971.2,.897),(1972.85,.898),(1973.75,.898),(1974.35,.894),(1974.9,.889),(1975.5,.898),(1976.1,.894),(1977.6,.892),(1979.35,.892),(1979.95,.889),(1980.4,.873),(1980.7,.917),(1981.15,.902),(1981.45,.925),(1981.75,.965),(1982.2,.933),(1982.5,.894),(1982.7,.917),(1982.95,.965),(1983.2,.972),(1983.5,.965),(1984.1,.957),(1984.7,.965),(1985.0,.977),(1985.3,.949),(1985.9,.933),(1986.5,.925),(1987.35,.925),(1987.95,.920),(1988.55,.909),(1989.15,.902),(1989.75,.909),(1990.95,.909),(1991.4,1.000),(1991.8,1.012),(1992.1,1.035),(1992.7,1.024),(1993.3,1.030),(1994.2,1.024),(1994.65,1.059),(1995.1,1.083),(1995.4,1.098),(1996.25,1.083),(1997.15,1.075),(1998.05,1.059),(1998.65,1.052),(1998.95,1.012),(1999.85,1.012),(2000.3,1.020),(2000.6,1.012),(2001.05,1.004),(2001.3,.988),(2001.55,1.075),(2001.85,1.201),(2002.05,1.406),(2002.5,1.413),(2002.95,1.390),(2003.4,1.429),(2003.7,1.390),(2004.85,1.390),(2005.15,1.374),(2005.6,1.398),(2006.05,1.390),(2006.35,1.406),(2006.65,1.390),(2007.03,1.374)]
FF_LC_BOOST = [(1971.2,.883),(1971.65,.886),(1973.45,.886),(1973.75,.862),(1974.6,.857),(1975.2,.862),(1975.65,.839),(1977.0,.835),(1978.8,.835),(1979.95,.835),(1980.25,.823),(1980.5,.799),(1980.7,.902),(1981.0,.909),(1981.3,.933),(1981.6,.972),(1981.8,.988),(1982.05,.870),(1982.35,.846),(1982.55,.744),(1982.7,.823),(1982.95,.842),(1983.2,.823),(1983.65,.776),(1983.95,.728),(1984.7,.736),(1985.0,.752),(1985.3,.741),(1985.6,.760),(1986.2,.713),(1986.8,.657),(1987.35,.650),(1987.95,.634),(1988.55,.621),(1989.0,.571),(1989.75,.555),(1990.65,.547),(1991.1,.558),(1991.25,.531),(1992.1,.539),(1993.3,.536),(1993.6,.508),(1994.2,.495),(1995.4,.508),(1995.95,.495),(1996.85,.476),(1998.35,.469),(1999.55,.461),(2000.7,.456),(2001.15,.461),(2001.45,.461),(2001.75,.547),(2002.05,.642),(2002.35,.587),(2002.8,.571),(2003.4,.558),(2004.25,.547),(2004.85,.547),(2005.45,.571),(2006.05,.594),(2006.5,.626),(2007.03,.657)]
FF_LC_BOOST_FACTOR = [(1971.2,.783),(1971.65,.791),(1973.45,.791),(1974.2,.794),(1974.5,.772),(1975.2,.776),(1975.45,.783),(1975.8,.763),(1977.6,.760),(1979.65,.763),(1980.1,.760),(1980.4,.741),(1980.6,.823),(1981.0,.894),(1981.3,.917),(1981.6,.941),(1981.8,.972),(1981.95,1.004),(1982.2,.886),(1982.4,.839),(1982.65,.846),(1983.0,.831),(1983.2,.791),(1983.5,.760),(1984.1,.752),(1984.65,.752),(1984.85,.689),(1985.3,.657),(1985.9,.634),(1986.5,.603),(1987.1,.563),(1987.65,.531),(1988.55,.516),(1989.15,.492),(1989.75,.484),(1990.65,.480),(1990.95,.469),(1991.25,.492),(1991.8,.516),(1992.4,.524),(1993.6,.527),(1994.2,.520),(1994.8,.531),(1995.4,.539),(1996.85,.536),(1998.35,.531),(1999.85,.527),(2000.3,.516),(2001.3,.516),(2001.6,.571),(2001.9,.681),(2002.1,.744),(2002.5,.689),(2002.95,.681),(2003.55,.665),(2004.25,.665),(2004.85,.669),(2005.45,.697),(2006.05,.736),(2006.5,.776),(2007.03,.788)]

# TB3MS
TB3MS_BOOST = [(1971.3,1.038),(1972.0,1.032),(1973.15,1.034),(1973.85,1.026),(1974.6,1.029),(1975.15,1.044),(1975.45,1.036),(1975.7,1.029),(1976.6,1.029),(1978.0,1.029),(1979.75,1.032),(1980.15,1.026),(1980.45,1.009),(1980.75,1.067),(1980.9,1.038),(1981.15,.980),(1981.45,.990),(1981.75,1.015),(1982.0,1.003),(1982.3,.975),(1982.6,1.009),(1982.75,1.176),(1983.0,1.187),(1983.15,1.164),(1983.45,1.136),(1983.75,1.151),(1984.3,1.147),(1984.6,1.159),(1985.05,1.159),(1985.15,1.182),(1985.75,1.199),(1986.2,1.182),(1986.45,1.130),(1986.75,1.084),(1987.45,1.067),(1988.05,1.055),(1988.6,1.061),(1988.9,1.049),(1989.05,1.024),(1989.3,1.040),(1990.05,1.040),(1990.3,1.032),(1990.75,1.032),(1991.05,1.049),(1991.35,1.084),(1991.9,1.095),(1992.35,1.118),(1992.9,1.159),(1993.5,1.141),(1994.05,1.130),(1994.75,1.130),(1995.2,1.162),(1995.6,1.162),(1996.05,1.141),(1996.35,1.153),(1997.05,1.124),(1997.75,1.101),(1998.35,1.084),(1998.9,1.084),(1999.2,1.101),(1999.6,1.101),(2000.2,1.072),(2000.6,1.084),(2000.9,1.072),(2001.2,1.055),(2001.5,1.084),(2001.65,1.038),(2001.8,1.245),(2002.05,1.348),(2002.5,1.302),(2003.2,1.308),(2004.05,1.302),(2004.6,1.291),(2005.05,1.314),(2005.35,1.348),(2005.65,1.331),(2006.0,1.360),(2006.2,1.389),(2006.5,1.423),(2007.05,1.420)]
TB3MS_BOOST_FACTOR = [(1971.3,.883),(1971.7,.891),(1973.15,.894),(1974.6,.891),(1975.15,.902),(1975.45,.889),(1976.6,.886),(1978.0,.889),(1979.75,.891),(1980.15,.879),(1980.45,.866),(1980.75,.902),(1981.0,.886),(1981.3,.894),(1981.6,.883),(1981.9,.900),(1982.15,.883),(1982.45,.911),(1982.65,.883),(1982.8,.998),(1983.15,.980),(1983.45,.992),(1983.75,.983),(1984.3,.992),(1984.9,.998),(1985.05,.957),(1985.45,.946),(1986.05,.940),(1986.6,.917),(1987.2,.889),(1988.05,.871),(1988.6,.866),(1988.9,.854),(1989.45,.860),(1990.3,.854),(1990.75,.854),(1991.05,.866),(1991.35,.894),(1991.9,.917),(1992.35,.940),(1992.9,.952),(1994.05,.952),(1994.6,.955),(1995.2,.980),(1996.35,.978),(1997.5,.969),(1998.65,.957),(1999.5,.946),(2000.4,.940),(2000.6,.952),(2000.9,.934),(2001.2,.923),(2001.5,.957),(2001.8,1.049),(2002.05,1.182),(2002.5,1.159),(2002.95,1.153),(2003.2,1.164),(2004.05,1.159),(2004.6,1.155),(2005.05,1.170),(2005.65,1.170),(2006.1,1.187),(2006.5,1.210),(2006.8,1.197),(2007.05,1.197)]
TB3MS_DI = [(1971.3,.940),(1972.3,.938),(1974.0,.938),(1975.0,.944),(1975.3,.952),(1976.0,.948),(1978.0,.948),(1979.75,.946),(1980.3,.940),(1980.6,.963),(1980.8,.934),(1981.0,.980),(1981.2,.969),(1981.45,.937),(1981.75,.932),(1982.0,.963),(1982.25,1.015),(1982.45,.992),(1982.65,1.003),(1982.8,1.182),(1983.0,1.187),(1983.2,1.130),(1983.6,1.118),(1984.3,1.124),(1984.6,1.118),(1984.85,1.095),(1985.05,1.061),(1985.45,1.049),(1985.75,1.061),(1986.2,1.049),(1986.6,1.021),(1987.2,1.003),(1988.3,.998),(1988.9,.998),(1989.05,.980),(1989.3,.998),(1990.05,.998),(1990.9,.998),(1991.05,1.003),(1991.35,1.055),(1991.75,1.067),(1992.35,1.084),(1992.9,1.098),(1993.75,1.098),(1994.6,1.093),(1995.2,1.113),(1995.75,1.107),(1996.9,1.098),(1997.75,1.093),(1998.35,1.078),(1999.2,1.075),(2000.05,1.067),(2000.6,1.067),(2000.9,1.055),(2001.2,1.032),(2001.5,1.107),(2001.8,1.147),(2001.95,1.314),(2002.2,1.320),(2002.65,1.316),(2003.05,1.331),(2003.65,1.323),(2004.35,1.314),(2005.05,1.316),(2005.35,1.302),(2005.65,1.320),(2006.1,1.308),(2006.5,1.314),(2006.65,1.293),(2007.05,1.282)]
TB3MS_LC_BOOST = [(1971.3,1.009),(1971.6,1.023),(1972.85,1.021),(1973.7,1.015),(1974.6,1.021),(1975.15,1.029),(1975.45,.998),(1976.6,.992),(1978.0,.992),(1979.15,.994),(1980.15,.992),(1980.45,.969),(1980.8,1.003),(1981.1,.952),(1981.45,.917),(1981.75,.934),(1982.15,.900),(1982.3,.866),(1982.6,.900),(1982.8,.992),(1983.0,1.021),(1983.45,.980),(1983.9,.980),(1984.3,.969),(1984.9,.980),(1985.3,.980),(1985.6,1.009),(1986.05,.992),(1986.3,.963),(1986.6,.923),(1987.05,.894),(1987.45,.877),(1988.05,.860),(1988.45,.854),(1988.75,.831),(1988.9,.802),(1989.45,.810),(1990.2,.802),(1990.45,.785),(1990.9,.779),(1991.2,.808),(1991.6,.814),(1992.05,.825),(1992.6,.848),(1993.05,.860),(1993.5,.843),(1994.05,.831),(1994.6,.808),(1995.2,.817),(1995.6,.820),(1996.05,.797),(1996.9,.791),(1997.75,.785),(1998.65,.779),(1999.2,.768),(2000.05,.764),(2000.6,.774),(2000.9,.768),(2001.2,.774),(2001.5,.854),(2001.8,.877),(2002.05,.998),(2002.35,.946),(2002.55,.917),(2002.95,.923),(2003.2,.934),(2004.05,.929),(2004.6,.929),(2004.9,.940),(2005.2,.975),(2005.65,.986),(2006.1,1.015),(2006.5,1.061),(2007.05,1.067)]
TB3MS_LC_BOOST_FACTOR = [(1971.3,.889),(1971.7,.894),(1973.15,.897),(1974.6,.897),(1975.15,.906),(1975.45,.889),(1976.6,.886),(1978.0,.886),(1979.75,.891),(1980.15,.883),(1980.45,.863),(1980.75,.911),(1981.0,.900),(1981.3,.911),(1981.6,.889),(1981.9,.923),(1982.15,.911),(1982.35,.877),(1982.6,.825),(1982.75,.911),(1983.0,.894),(1983.45,.900),(1983.9,.883),(1984.3,.894),(1984.9,.891),(1985.05,.825),(1985.45,.817),(1986.05,.802),(1986.45,.785),(1986.75,.745),(1987.45,.739),(1988.05,.722),(1988.6,.716),(1989.05,.693),(1989.75,.687),(1990.3,.679),(1990.9,.678),(1991.2,.705),(1991.9,.722),(1992.6,.739),(1993.5,.741),(1994.5,.739),(1994.9,.728),(1995.5,.734),(1996.35,.730),(1997.5,.722),(1998.65,.718),(1999.5,.716),(2000.4,.710),(2000.9,.710),(2001.2,.699),(2001.5,.762),(2001.8,.779),(2002.05,.911),(2002.35,.854),(2002.65,.845),(2003.05,.854),(2003.35,.860),(2003.8,.852),(2004.35,.845),(2004.9,.854),(2005.5,.883),(2005.95,.900),(2006.2,.917),(2006.5,.934),(2007.05,.934)]

# y-axis ticks / labels per panel
IP_YTICKS = [0.7, 0.8, 0.9, 1.0, 1.1];            IP_YLABELS = ["0.7", "0.8", "0.9", "1.0", "1.1"]
EMS_YTICKS = [0.7, 0.8, 0.9, 1.0];                EMS_YLABELS = ["0.7", "0.8", "0.9", "1.0"]
UNRATE_YTICKS = [0.60, 0.65, 0.70, 0.75, 0.80, 0.85]; UNRATE_YLABELS = ["0.60", "0.65", "0.70", "0.75", "0.80", "0.85"]
CLF_YTICKS = [0.7, 0.8, 0.9, 1.0];                CLF_YLABELS = ["0.7", "0.8", "0.9", "1.0"]
RPI_YTICKS = [0.75, 0.80, 0.85];                  RPI_YLABELS = ["0.75", "0.80", "0.85"]
CPI_YTICKS = [0.80, 0.85, 0.90, 0.95, 1.00];      CPI_YLABELS = ["0.80", "0.85", "0.90", "0.95", "1.00"]
FF_YTICKS = [0.50, 0.75, 1.00, 1.25, 1.50];       FF_YLABELS = ["0.50", "0.75", "1.00", "1.25", "1.50"]
TB3MS_YTICKS = [0.8, 1.0, 1.2, 1.4];              TB3MS_YLABELS = ["0.8", "1.0", "1.2", "1.4"]

# ---------------- figure ----------------
W, H = 1044, 1358
fig = plt.figure(figsize=(W / 100, H / 100), dpi=100)
fig.patch.set_facecolor("white")

def add_px_axes(l, t, r, b):
    return fig.add_axes([l / W, 1 - b / H, (r - l) / W, (b - t) / H])

panels = [
    ("IP", (67, 39, 518, 278), (0.641, 1.102), IP_YTICKS, IP_YLABELS,
     [IP_BOOST, IP_BOOST_FACTOR, IP_DI, IP_LC_BOOST, IP_LC_BOOST_FACTOR]),
    ("EMS", (598, 39, 1043, 278), (0.638, 1.087), EMS_YTICKS, EMS_YLABELS,
     [EMS_BOOST, EMS_BOOST_FACTOR, EMS_DI, EMS_LC_BOOST, EMS_LC_BOOST_FACTOR]),
    ("UNRATE", (76, 371, 518, 609), (0.589, 0.866), UNRATE_YTICKS, UNRATE_YLABELS,
     [UNRATE_BOOST, UNRATE_BOOST_FACTOR, UNRATE_DI, UNRATE_LC_BOOST, UNRATE_LC_BOOST_FACTOR]),
    ("CLF", (598, 371, 1043, 609), (0.635, 1.002), CLF_YTICKS, CLF_YLABELS,
     [CLF_BOOST, CLF_BOOST_FACTOR, CLF_DI, CLF_LC_BOOST, CLF_LC_BOOST_FACTOR]),
    ("RPI", (76, 700, 518, 940), (0.7444, 0.8886), RPI_YTICKS, RPI_YLABELS,
     [RPI_BOOST, RPI_BOOST_FACTOR, RPI_DI, RPI_LC_BOOST, RPI_LC_BOOST_FACTOR]),
    ("CPI", (607, 702, 1043, 940), (0.7612, 1.018), CPI_YTICKS, CPI_YLABELS,
     [CPI_BOOST, CPI_BOOST_FACTOR, CPI_DI, CPI_LC_BOOST, CPI_LC_BOOST_FACTOR]),
    ("FF", (76, 1032, 518, 1271), (0.40, 1.531), FF_YTICKS, FF_YLABELS,
     [FF_BOOST, FF_BOOST_FACTOR, FF_DI, FF_LC_BOOST, FF_LC_BOOST_FACTOR]),
    ("TB3MS", (598, 1032, 1043, 1271), (0.638, 1.463), TB3MS_YTICKS, TB3MS_YLABELS,
     [TB3MS_BOOST, TB3MS_BOOST_FACTOR, TB3MS_DI, TB3MS_LC_BOOST, TB3MS_LC_BOOST_FACTOR]),
]

for title, rect, ylim, yticks, ylabels, series in panels:
    ax = add_px_axes(*rect)
    ax.set_xlim(1969.45, 2008.8)
    ax.set_xticks(X_TICKS)
    ax.set_xticks([1975, 1985, 1995, 2005], minor=True)
    ax.set_yticks(yticks)
    ax.set_yticklabels(ylabels)
    step = yticks[1] - yticks[0]
    minors = [yticks[0] - step / 2] + [t + step / 2 for t in yticks]
    ax.set_yticks(minors, minor=True)
    ax.set_ylim(*ylim)
    ax.grid(which="major", color="#EBEBEB", linewidth=1.1, zorder=0)
    ax.grid(which="minor", color="#F2F2F2", linewidth=0.6, zorder=0)
    ax.set_axisbelow(True)
    ax.tick_params(which="minor", length=0)
    ax.tick_params(which="major", length=3, width=0.8, color="#333333",
                   labelcolor="#4D4D4D", labelsize=11, pad=2)
    for sp in ax.spines.values():
        sp.set_color("#333333")
        sp.set_linewidth(1.0)
    for (a, b) in RECESSIONS:
        ax.axvspan(a, b, color="#ADD8E6", alpha=0.3, lw=0, zorder=1)
    for data, col in zip(series, COLORS):
        xs = [p[0] for p in data]
        ys = [p[1] for p in data]
        ax.plot(xs, ys, color=col, lw=1.2, zorder=3, solid_joinstyle="round")
    ax.set_title(title, fontsize=17, pad=8)
    ax.set_ylabel("MSFE", fontsize=13.5, labelpad=4)

handles = [Line2D([0], [0], color=c, lw=1.6) for c in COLORS]
fig.legend(handles, SERIES, loc="center", bbox_to_anchor=(540 / W, 1 - 1348 / H), ncol=5,
           frameon=False, fontsize=11.2, handlelength=1.6, handletextpad=0.55,
           columnspacing=0.55)

fig.savefig("out.png", dpi=100, facecolor="white")
